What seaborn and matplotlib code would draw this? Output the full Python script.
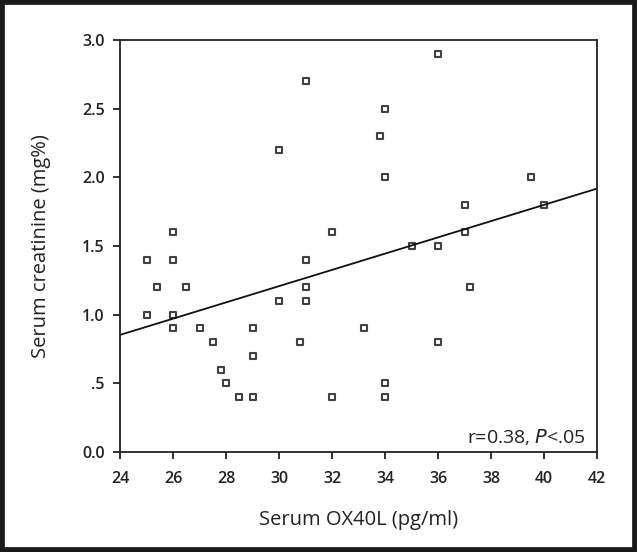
import matplotlib
matplotlib.use("Agg")
import matplotlib.pyplot as plt
import seaborn as sns
import pandas as pd
from matplotlib.patches import Rectangle
from matplotlib.ticker import FixedLocator, FixedFormatter

ox40l = [25, 25, 25.4, 26, 26, 26, 26, 26.5, 27, 27.5, 27.8, 28, 28.5, 29, 29, 29,
         30, 30, 30.8, 31, 31, 31, 31, 32, 32, 33.2, 33.8, 34, 34, 34, 34, 35,
         36, 36, 36, 37, 37, 37.2, 39.5, 40]
creatinine = [1.4, 1.0, 1.2, 1.6, 1.4, 1.0, 0.9, 1.2, 0.9, 0.8, 0.6, 0.5, 0.4, 0.9, 0.7, 0.4,
              2.2, 1.1, 0.8, 2.7, 1.4, 1.2, 1.1, 1.6, 0.4, 0.9, 2.3, 2.5, 2.0, 0.5, 0.4, 1.5,
              2.9, 1.5, 0.8, 1.8, 1.6, 1.2, 2.0, 1.8]
x_ticks = [24, 26, 28, 30, 32, 34, 36, 38, 40, 42]
y_ticks = [0.0, 0.5, 1.0, 1.5, 2.0, 2.5, 3.0]
y_tick_labels = ["0.0", ".5", "1.0", "1.5", "2.0", "2.5", "3.0"]

df = pd.DataFrame({"x": ox40l, "y": creatinine})

sns.set_style("ticks")
plt.rcParams["font.family"] = ["Open Sans", "DejaVu Sans"]

fig = plt.figure(figsize=(6.37, 5.52), dpi=100)
fig.patch.set_facecolor("white")
ax = fig.add_axes([0.1884, 0.1812, 0.7488, 0.7463])
ax.set_xlim(24, 42)
ax.set_ylim(0, 3.0)

sns.regplot(data=df, x="x", y="y", ax=ax, ci=None, truncate=False, marker="s",
            scatter_kws=dict(facecolors="white", edgecolors="#111111", s=20, linewidths=1.5),
            line_kws=dict(color="#111111", lw=1.3))
ax.set_xlim(24, 42)
ax.set_ylim(0, 3.0)

ax.xaxis.set_major_locator(FixedLocator(x_ticks))
ax.yaxis.set_major_locator(FixedLocator(y_ticks))
ax.yaxis.set_major_formatter(FixedFormatter(y_tick_labels))
ax.tick_params(axis="both", direction="out", length=5, width=1.3, color="#222222",
               labelsize=11.5, labelcolor="#222222")
ax.tick_params(axis="x", pad=9)
ax.tick_params(axis="y", pad=6)
for lab in ax.get_xticklabels() + ax.get_yticklabels():
    lab.set_fontweight("semibold")
for sp in ax.spines.values():
    sp.set_visible(True)
    sp.set_linewidth(1.3)
    sp.set_color("#222222")

ax.set_xlabel("Serum OX40L (pg/ml)", fontsize=14.5, color="#222222", labelpad=16)
ax.set_ylabel("Serum creatinine (mg%)", fontsize=14.5, color="#222222", labelpad=22)

ax.text(0.977, 0.036, r"r=0.38, $\mathit{P}$<.05", transform=ax.transAxes,
        ha="right", va="center", fontsize=14, color="#222222")

fig.patches.append(Rectangle((0, 0), 1, 1, transform=fig.transFigure, fill=False,
                             edgecolor="#1a1a1a", linewidth=7, zorder=10))

fig.savefig("out.png", dpi=100, facecolor="white")
